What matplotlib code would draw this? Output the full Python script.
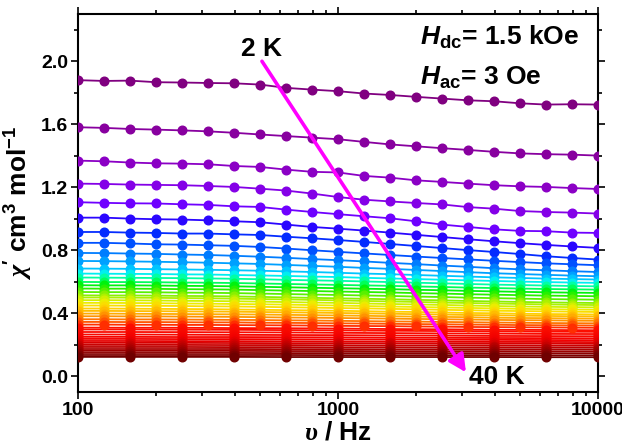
import matplotlib
matplotlib.use("Agg")
import matplotlib.pyplot as plt
from matplotlib.colors import LinearSegmentedColormap
from matplotlib.ticker import MultipleLocator, FixedLocator, NullFormatter

plt.rcParams['font.family'] = ['Liberation Sans', 'DejaVu Sans']
plt.rcParams['font.weight'] = 'bold'
plt.rcParams['mathtext.fontset'] = 'custom'
plt.rcParams['mathtext.rm'] = 'Liberation Sans:bold'
plt.rcParams['mathtext.bf'] = 'Liberation Sans:bold'
plt.rcParams['mathtext.it'] = 'Liberation Sans:italic:bold'
plt.rcParams['mathtext.cal'] = 'Liberation Serif:italic'

# ---------------- data ----------------
freq_full = [100, 125.9, 158.5, 199.5, 251.2, 316.2, 398.1, 501.2, 631.0, 794.3,
             1000, 1259, 1585, 1995, 2512, 3162, 3981, 5012, 6310, 7943, 10000]
freq_half = [100, 158.5, 251.2, 398.1, 631.0, 1000, 1585, 2512, 3981, 6310, 10000]

c01 = [1.880, 1.875, 1.877, 1.867, 1.865, 1.862, 1.860, 1.852, 1.831, 1.820, 1.810, 1.795, 1.786, 1.774, 1.763, 1.752, 1.746, 1.733, 1.725, 1.727, 1.725]
c02 = [1.581, 1.577, 1.570, 1.566, 1.561, 1.555, 1.546, 1.535, 1.525, 1.515, 1.505, 1.488, 1.472, 1.460, 1.448, 1.437, 1.425, 1.415, 1.410, 1.407, 1.401]
c03 = [1.369, 1.365, 1.357, 1.352, 1.350, 1.346, 1.335, 1.329, 1.312, 1.298, 1.294, 1.272, 1.261, 1.244, 1.234, 1.223, 1.213, 1.206, 1.202, 1.195, 1.189]
c04 = [1.223, 1.221, 1.217, 1.215, 1.213, 1.208, 1.202, 1.191, 1.179, 1.160, 1.138, 1.121, 1.110, 1.100, 1.091, 1.074, 1.064, 1.049, 1.043, 1.039, 1.033]
c05 = [1.105, 1.101, 1.098, 1.097, 1.092, 1.088, 1.079, 1.075, 1.058, 1.043, 1.029, 1.016, 1.003, 0.984, 0.963, 0.948, 0.933, 0.923, 0.921, 0.912, 0.910]
c06 = [1.007, 1.007, 1.001, 0.997, 0.995, 0.990, 0.984, 0.978, 0.963, 0.948, 0.937, 0.925, 0.912, 0.898, 0.884, 0.870, 0.857, 0.845, 0.834, 0.824, 0.815]
c07 = [0.916, 0.916, 0.912, 0.910, 0.906, 0.906, 0.901, 0.897, 0.886, 0.876, 0.865, 0.853, 0.840, 0.827, 0.814, 0.801, 0.789, 0.776, 0.762, 0.751, 0.741]
c08 = [0.847, 0.847, 0.843, 0.838, 0.836, 0.832, 0.828, 0.821, 0.811, 0.800, 0.790, 0.780, 0.770, 0.760, 0.751, 0.742, 0.733, 0.725, 0.717, 0.711, 0.705]
c09 = [0.783, 0.782, 0.779, 0.777, 0.773, 0.770, 0.765, 0.759, 0.752, 0.744, 0.737, 0.729, 0.720, 0.712, 0.703, 0.695, 0.686, 0.679, 0.673, 0.667, 0.662]
c10 = [0.732, 0.731, 0.729, 0.727, 0.724, 0.721, 0.717, 0.713, 0.707, 0.701, 0.695, 0.688, 0.682, 0.675, 0.668, 0.661, 0.654, 0.649, 0.644, 0.639, 0.635]
c11 = [0.684, 0.683, 0.682, 0.680, 0.678, 0.676, 0.673, 0.670, 0.666, 0.662, 0.657, 0.652, 0.648, 0.643, 0.638, 0.633, 0.628, 0.624, 0.620, 0.617, 0.614]
c12 = [0.652, 0.651, 0.650, 0.649, 0.647, 0.646, 0.643, 0.640, 0.637, 0.633, 0.630, 0.625, 0.621, 0.617, 0.613, 0.609, 0.605, 0.601, 0.598, 0.595, 0.593]
c13 = [0.627, 0.626, 0.625, 0.624, 0.623, 0.621, 0.619, 0.616, 0.612, 0.609, 0.606, 0.602, 0.598, 0.594, 0.590, 0.586, 0.582, 0.579, 0.576, 0.573, 0.571]
c14 = [0.599, 0.598, 0.598, 0.597, 0.595, 0.594, 0.592, 0.589, 0.586, 0.583, 0.580, 0.577, 0.574, 0.570, 0.567, 0.563, 0.560, 0.557, 0.554, 0.552, 0.550]
c15 = [0.578, 0.577, 0.577, 0.576, 0.574, 0.573, 0.571, 0.568, 0.565, 0.562, 0.559, 0.556, 0.553, 0.549, 0.546, 0.542, 0.539, 0.536, 0.533, 0.531, 0.529]
c16 = [0.557, 0.556, 0.556, 0.555, 0.553, 0.552, 0.550, 0.547, 0.544, 0.541, 0.538, 0.535, 0.532, 0.528, 0.525, 0.521, 0.518, 0.515, 0.512, 0.510, 0.508]
c17 = [0.535, 0.534, 0.534, 0.533, 0.531, 0.530, 0.528, 0.525, 0.522, 0.519, 0.516, 0.513, 0.510, 0.506, 0.503, 0.499, 0.496, 0.493, 0.490, 0.488, 0.486]
c18 = [0.514, 0.513, 0.513, 0.512, 0.510, 0.509, 0.507, 0.504, 0.501, 0.498, 0.495, 0.492, 0.489, 0.485, 0.482, 0.478, 0.475, 0.472, 0.469, 0.467, 0.465]
c19 = [0.500, 0.500, 0.499, 0.498, 0.496, 0.495, 0.493, 0.490, 0.488, 0.485, 0.482, 0.478, 0.475, 0.472, 0.468, 0.465, 0.462, 0.459, 0.456, 0.454, 0.452]
c20 = [0.483, 0.483, 0.482, 0.481, 0.479, 0.478, 0.476, 0.474, 0.471, 0.468, 0.466, 0.462, 0.459, 0.456, 0.453, 0.449, 0.446, 0.443, 0.441, 0.439, 0.437]
c21 = [0.466, 0.466, 0.465, 0.464, 0.462, 0.461, 0.459, 0.457, 0.455, 0.452, 0.449, 0.446, 0.443, 0.440, 0.437, 0.434, 0.431, 0.428, 0.426, 0.424, 0.422]
c22 = [0.449, 0.449, 0.448, 0.447, 0.446, 0.444, 0.443, 0.441, 0.438, 0.436, 0.433, 0.431, 0.428, 0.425, 0.422, 0.419, 0.416, 0.414, 0.412, 0.410, 0.408]
c23 = [0.430, 0.430, 0.429, 0.428, 0.427, 0.426, 0.424, 0.422, 0.420, 0.418, 0.416, 0.413, 0.410, 0.408, 0.405, 0.402, 0.400, 0.397, 0.395, 0.394, 0.392]
c24 = [0.415, 0.415, 0.414, 0.413, 0.412, 0.411, 0.410, 0.408, 0.406, 0.404, 0.402, 0.399, 0.397, 0.394, 0.392, 0.389, 0.387, 0.385, 0.383, 0.381, 0.380]
c25 = [0.398, 0.398, 0.397, 0.396, 0.395, 0.394, 0.393, 0.392, 0.390, 0.388, 0.386, 0.384, 0.381, 0.379, 0.377, 0.375, 0.372, 0.370, 0.369, 0.367, 0.366]
c26 = [0.381, 0.381, 0.380, 0.380, 0.379, 0.378, 0.377, 0.375, 0.373, 0.372, 0.370, 0.368, 0.366, 0.364, 0.362, 0.360, 0.358, 0.356, 0.355, 0.353, 0.352]
c27 = [0.362, 0.362, 0.361, 0.361, 0.360, 0.359, 0.358, 0.357, 0.355, 0.354, 0.352, 0.350, 0.348, 0.347, 0.345, 0.343, 0.341, 0.340, 0.338, 0.337, 0.336]
c28 = [0.345, 0.345, 0.344, 0.344, 0.343, 0.342, 0.342, 0.340, 0.339, 0.338, 0.336, 0.335, 0.333, 0.331, 0.330, 0.328, 0.327, 0.325, 0.324, 0.323, 0.322]
c29 = [0.328, 0.328, 0.327, 0.327, 0.326, 0.326, 0.325, 0.324, 0.323, 0.322, 0.320, 0.319, 0.318, 0.316, 0.315, 0.313, 0.312, 0.311, 0.310, 0.309, 0.308]

c30 = [0.309, 0.308, 0.308, 0.306, 0.305, 0.303, 0.300, 0.298, 0.295, 0.294, 0.292]
c31 = [0.297, 0.297, 0.296, 0.295, 0.293, 0.291, 0.289, 0.287, 0.285, 0.283, 0.282]
c32 = [0.281, 0.281, 0.280, 0.279, 0.278, 0.276, 0.274, 0.272, 0.271, 0.269, 0.268]
c33 = [0.265, 0.265, 0.264, 0.263, 0.262, 0.261, 0.259, 0.258, 0.256, 0.255, 0.254]
c34 = [0.250, 0.250, 0.249, 0.249, 0.248, 0.247, 0.245, 0.244, 0.243, 0.242, 0.241]
c35 = [0.237, 0.237, 0.236, 0.236, 0.235, 0.234, 0.233, 0.232, 0.231, 0.230, 0.229]
c36 = [0.224, 0.224, 0.223, 0.223, 0.222, 0.221, 0.220, 0.219, 0.218, 0.218, 0.217]
c37 = [0.212, 0.212, 0.212, 0.211, 0.210, 0.210, 0.209, 0.208, 0.207, 0.207, 0.206]
c38 = [0.199, 0.199, 0.199, 0.198, 0.198, 0.197, 0.196, 0.196, 0.195, 0.194, 0.194]
c39 = [0.186, 0.186, 0.186, 0.185, 0.185, 0.184, 0.184, 0.183, 0.183, 0.182, 0.182]
c40 = [0.173, 0.173, 0.173, 0.173, 0.172, 0.172, 0.171, 0.171, 0.171, 0.170, 0.170]
c41 = [0.161, 0.161, 0.161, 0.161, 0.160, 0.160, 0.159, 0.159, 0.159, 0.158, 0.158]
c42 = [0.148, 0.148, 0.148, 0.148, 0.147, 0.147, 0.147, 0.147, 0.146, 0.146, 0.146]
c43 = [0.135, 0.135, 0.135, 0.135, 0.135, 0.134, 0.134, 0.134, 0.134, 0.133, 0.133]
c44 = [0.123, 0.123, 0.123, 0.123, 0.122, 0.122, 0.122, 0.122, 0.122, 0.121, 0.121]

curves_full = [c01, c02, c03, c04, c05, c06, c07, c08, c09, c10, c11, c12, c13, c14, c15,
               c16, c17, c18, c19, c20, c21, c22, c23, c24, c25, c26, c27, c28, c29]
curves_half = [c30, c31, c32, c33, c34, c35, c36, c37, c38, c39, c40, c41, c42, c43, c44]

y_ticks = [0.0, 0.4, 0.8, 1.2, 1.6, 2.0]
x_ticks = [100, 1000, 10000]
label_low, label_high = "2 K", "40 K"
field_dc = r"$\mathit{H}_{\mathbf{dc}}$= 1.5 kOe"
field_ac = r"$\mathit{H}_{\mathbf{ac}}$= 3 Oe"

# ---------------- style ----------------
cmap = LinearSegmentedColormap.from_list("rb", [
    (0.00, "#800080"), (0.03, "#8C00B0"), (0.06, "#8A00E0"), (0.09, "#7000FF"),
    (0.11, "#3000FF"), (0.14, "#0030FF"), (0.17, "#0060FF"), (0.19, "#0088FF"),
    (0.22, "#00B0FF"), (0.25, "#00E8FF"), (0.27, "#00FFC0"), (0.30, "#00FF60"),
    (0.33, "#00F000"), (0.40, "#90F000"), (0.46, "#E8F000"), (0.50, "#FFD800"),
    (0.57, "#FFA000"), (0.62, "#FF6000"), (0.67, "#FF1000"), (0.80, "#F00000"),
    (1.00, "#700000")])

fig = plt.figure(figsize=(6.22, 4.43), dpi=100)
ax = fig.add_axes([0.1254, 0.1151, 0.836, 0.8533])

series = [(freq_full, c) for c in curves_full] + [(freq_half, c) for c in curves_half]
n = len(series)
for i, (f, y) in enumerate(series):
    col = cmap(i / (n - 1))
    ax.plot(f, y, '-', color=col, lw=1.3, zorder=2)
for i, (f, y) in enumerate(series):
    col = cmap(i / (n - 1))
    ax.plot(f, y, 'o', color=col, ms=6.2, mec=col, ls='none', zorder=3)

ax.set_xscale('log')
ax.set_xlim(100, 10000)
ax.set_ylim(-0.1, 2.3)
ax.xaxis.set_major_locator(FixedLocator(x_ticks))
ax.set_xticklabels([str(v) for v in x_ticks])
ax.xaxis.set_minor_formatter(NullFormatter())
ax.yaxis.set_major_locator(FixedLocator(y_ticks))
ax.set_yticklabels([f"{v:.1f}" for v in y_ticks])
ax.yaxis.set_minor_locator(MultipleLocator(0.2))

for s in ax.spines.values():
    s.set_linewidth(1.5)
ax.tick_params(which='both', direction='out', top=True, right=True,
               labeltop=False, labelright=False, width=1.2, labelsize=14, pad=2)
ax.tick_params(which='major', length=5)
ax.tick_params(which='minor', length=3)
for lab in ax.get_xticklabels() + ax.get_yticklabels():
    lab.set_fontweight('bold')

ax.set_xlabel(r"$\mathcal{\upsilon}$ / Hz", fontsize=19, fontweight='bold', labelpad=1)
ax.set_ylabel(r"$\mathcal{\chi}\mathbf{'}$ cm$^{3}$ mol$^{-1}$", fontsize=19,
              fontweight='bold', labelpad=4)

# annotations
arrow_start = (510, 2.00)
arrow_end = (3105, 0.025)
ax.annotate('', xy=arrow_end, xytext=arrow_start,
            arrowprops=dict(arrowstyle='-|>', color='#FF00FF', lw=2.6,
                            mutation_scale=26, shrinkA=0, shrinkB=0), zorder=5)
ax.text(510, 2.0, label_low, fontsize=19, fontweight='bold', ha='center',
        va='bottom', zorder=6)
ax.text(3200, -0.005, label_high, fontsize=19, fontweight='bold', ha='left',
        va='center', zorder=6)
ax.text(0.658, 0.918, field_dc, transform=ax.transAxes, fontsize=19,
        fontweight='bold', va='baseline', ha='left')
ax.text(0.658, 0.812, field_ac, transform=ax.transAxes, fontsize=19,
        fontweight='bold', va='baseline', ha='left')

fig.savefig("out.png", dpi=100)
